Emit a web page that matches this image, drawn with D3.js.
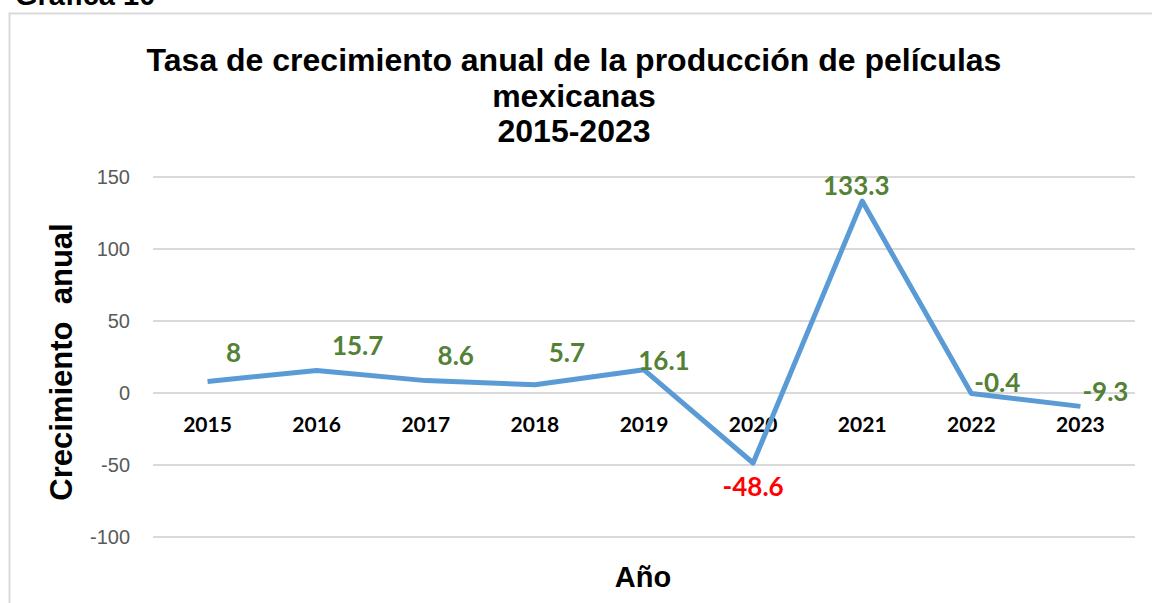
<!DOCTYPE html>
<html>
<head>
<meta charset="utf-8">
<script src="https://cdn.jsdelivr.net/npm/d3@7"></script>
<style>
  body { margin: 0; background: #fff; }
  svg { display: block; }
</style>
</head>
<body>
<svg id="chart" width="1152" height="603"></svg>
<script>
const years = ["2015", "2016", "2017", "2018", "2019", "2020", "2021", "2022", "2023"];
const growth = [8, 15.7, 8.6, 5.7, 16.1, -48.6, 133.3, -0.4, -9.3];
const yTicks = [-100, -50, 0, 50, 100, 150];
const titleLines = [
  "Tasa de crecimiento anual de la producción de películas",
  "mexicanas",
  "2015-2023"
];
// label placement relative to each point (manual, like the original)
const labelOffsets = [
  [26, -19], [41, -15], [30, -16], [32, -23], [20, 0],
  [0, 33], [-6, -6], [26, -2], [25, -5]
];

const svg = d3.select("#chart");
const W = 1152, H = 603;

// outer frame of the chart object
svg.append("rect")
  .attr("x", 9.5).attr("y", 13.5)
  .attr("width", W).attr("height", H)
  .attr("fill", "none")
  .attr("stroke", "#d9d9d9")
  .attr("stroke-width", 2);

// caption, cut at the top like the source
svg.append("text")
  .attr("x", 15).attr("y", 5)
  .attr("font-family", "Liberation Sans, Arial, sans-serif")
  .attr("font-weight", "bold")
  .attr("font-size", 29)
  .attr("fill", "#000")
  .text("Gráfica 10");

const plot = { left: 153, right: 1135, top: 177, bottom: 537 };

const x = d3.scaleBand().domain(years).range([plot.left, plot.right]);
const y = d3.scaleLinear().domain([-100, 150]).range([plot.bottom, plot.top]);

// gridlines
svg.append("g")
  .selectAll("line")
  .data(yTicks)
  .join("line")
  .attr("x1", plot.left).attr("x2", plot.right)
  .attr("y1", (d) => y(d)).attr("y2", (d) => y(d))
  .attr("stroke", "#d9d9d9")
  .attr("stroke-width", 2);

// y tick labels
svg.append("g")
  .selectAll("text")
  .data(yTicks)
  .join("text")
  .attr("x", 130)
  .attr("y", (d) => y(d))
  .attr("dy", "0.35em")
  .attr("text-anchor", "end")
  .attr("font-family", "Liberation Sans, Arial, sans-serif")
  .attr("font-size", 20)
  .attr("fill", "#595959")
  .text((d) => d);

// category labels, sitting just under the zero line
svg.append("g")
  .selectAll("text")
  .data(years)
  .join("text")
  .attr("x", (d) => x(d) + x.bandwidth() / 2)
  .attr("y", y(0) + 39)
  .attr("text-anchor", "middle")
  .attr("font-family", "Lato, sans-serif")
  .attr("font-weight", "bold")
  .attr("font-size", 21)
  .attr("fill", "#000")
  .text((d) => d);

// line
const line = d3.line()
  .x((d, i) => x(years[i]) + x.bandwidth() / 2)
  .y((d) => y(d));

svg.append("path")
  .datum(growth)
  .attr("d", line)
  .attr("fill", "none")
  .attr("stroke", "#5b9bd5")
  .attr("stroke-width", 5)
  .attr("stroke-linejoin", "round")
  .attr("stroke-linecap", "butt");

// data labels
svg.append("g")
  .selectAll("text")
  .data(growth)
  .join("text")
  .attr("x", (d, i) => x(years[i]) + x.bandwidth() / 2 + labelOffsets[i][0])
  .attr("y", (d, i) => y(d) + labelOffsets[i][1])
  .attr("text-anchor", "middle")
  .attr("font-family", "Lato, sans-serif")
  .attr("font-weight", "bold")
  .attr("font-size", 26)
  .attr("fill", (d) => (d < -20 ? "#ff0000" : "#538135"))
  .text((d) => d);

// title
svg.append("text")
  .attr("font-family", "Liberation Sans, Arial, sans-serif")
  .attr("font-weight", "bold")
  .attr("font-size", 32)
  .attr("fill", "#000")
  .attr("text-anchor", "middle")
  .selectAll("tspan")
  .data(titleLines)
  .join("tspan")
  .attr("x", 574)
  .attr("y", (d, i) => 71 + i * 35.5)
  .text((d) => d);

// axis titles
svg.append("text")
  .attr("transform", "translate(72,362) rotate(-90)")
  .attr("text-anchor", "middle")
  .attr("font-family", "Liberation Sans, Arial, sans-serif")
  .attr("font-weight", "bold")
  .attr("font-size", 31)
  .attr("fill", "#000")
  .style("white-space", "pre")
  .text("Crecimiento  anual");

svg.append("text")
  .attr("x", 643).attr("y", 587)
  .attr("text-anchor", "middle")
  .attr("font-family", "Liberation Sans, Arial, sans-serif")
  .attr("font-weight", "bold")
  .attr("font-size", 29)
  .attr("fill", "#000")
  .text("Año");
</script>
</body>
</html>
